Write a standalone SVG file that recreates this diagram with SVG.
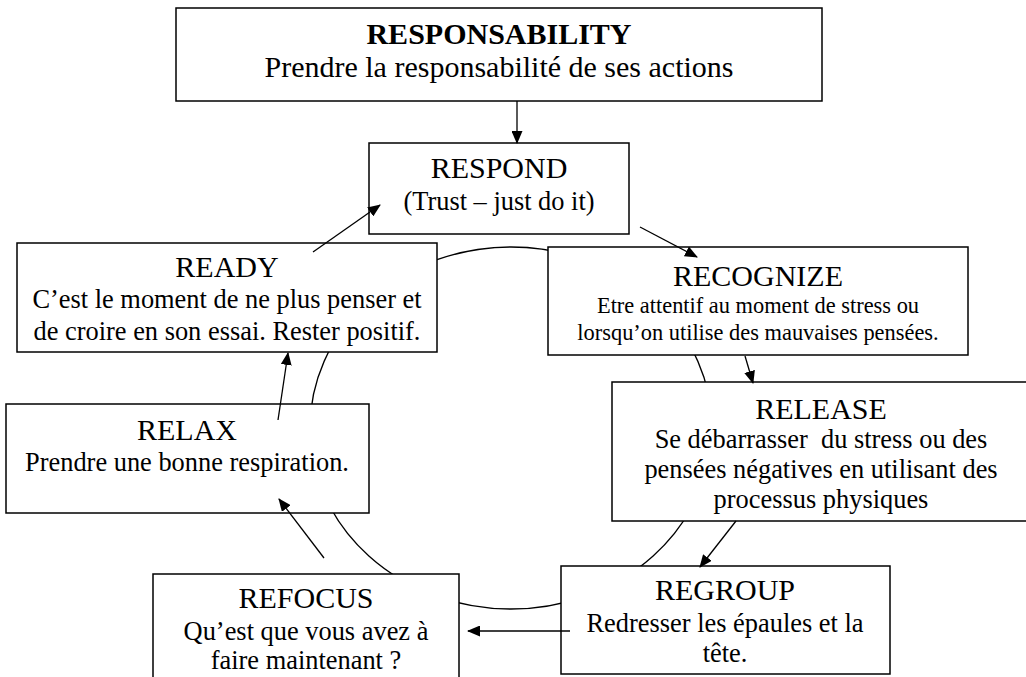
<svg xmlns="http://www.w3.org/2000/svg" width="1026" height="677" viewBox="0 0 1026 677">
<defs>
<style>
.box{fill:#fff;stroke:#000;stroke-width:1.5}
.t{font-family:"Liberation Serif","Times New Roman",serif;font-size:30px;fill:#000;text-anchor:middle}
.b{font-family:"Liberation Serif","Times New Roman",serif;font-size:26.4px;fill:#000;text-anchor:middle}
.s{font-family:"Liberation Serif","Times New Roman",serif;font-size:22.4px;fill:#000;text-anchor:middle}
.c{fill:none;stroke:#000;stroke-width:1.3}
.a{fill:none;stroke:#000;stroke-width:1.3;marker-end:url(#ah)}
</style>
<marker id="ah" markerUnits="userSpaceOnUse" markerWidth="13" markerHeight="11" viewBox="0 0 13 11" refX="12" refY="5.5" orient="auto">
<path d="M0,0 L13,5.5 L0,11 Z" fill="#000"/>
</marker>
</defs>
<rect width="1026" height="677" fill="#fff"/>
<ellipse class="c" cx="511" cy="428" rx="201" ry="181"/>
<g id="responsability">
<rect class="box" x="176" y="8" width="646" height="93"/>
<text class="t" x="499" y="44" font-weight="bold">RESPONSABILITY</text>
<text class="t" x="499" y="77">Prendre la responsabilité de ses actions</text>
</g>
<g id="respond">
<rect class="box" x="369" y="143" width="260" height="91"/>
<text class="t" x="499" y="178">RESPOND</text>
<text class="b" x="499" y="210">(Trust – just do it)</text>
</g>
<g id="ready">
<rect class="box" x="17" y="243" width="420" height="109"/>
<text class="t" x="227" y="277">READY</text>
<text class="b" x="227" y="308">C’est le moment de ne plus penser et</text>
<text class="b" x="227" y="340">de croire en son essai. Rester positif.</text>
</g>
<g id="recognize">
<rect class="box" x="548" y="247" width="420" height="108"/>
<text class="t" x="758" y="286">RECOGNIZE</text>
<text class="s" x="758" y="313">Etre attentif au moment de stress ou</text>
<text class="s" x="758" y="340">lorsqu’on utilise des mauvaises pensées.</text>
</g>
<g id="release">
<rect class="box" x="612" y="382" width="420" height="139"/>
<text class="t" x="821" y="419">RELEASE</text>
<text class="b" x="821" y="448" xml:space="preserve">Se débarrasser  du stress ou des</text>
<text class="b" x="821" y="478">pensées négatives en utilisant des</text>
<text class="b" x="821" y="508">processus physiques</text>
</g>
<g id="relax">
<rect class="box" x="6" y="404" width="363" height="109"/>
<text class="t" x="187" y="440">RELAX</text>
<text class="b" x="187" y="471">Prendre une bonne respiration.</text>
</g>
<g id="regroup">
<rect class="box" x="561" y="566" width="329" height="108"/>
<text class="t" x="725" y="600">REGROUP</text>
<text class="b" x="725" y="632">Redresser les épaules et la</text>
<text class="b" x="725" y="662">tête.</text>
</g>
<g id="refocus">
<rect class="box" x="153" y="574" width="306" height="120"/>
<text class="t" x="306" y="608">REFOCUS</text>
<text class="b" x="306" y="640">Qu’est que vous avez à</text>
<text class="b" x="306" y="669">faire maintenant ?</text>
</g>
<g id="connectors">
<line class="a" x1="517" y1="101" x2="517" y2="143"/>
<line class="a" x1="313" y1="252" x2="380" y2="205"/>
<line class="a" x1="640" y1="227" x2="697" y2="257"/>
<line class="a" x1="745" y1="356" x2="753" y2="383"/>
<line class="a" x1="736" y1="521" x2="700" y2="567"/>
<line class="a" x1="570" y1="631" x2="468" y2="631"/>
<line class="a" x1="324" y1="558" x2="279" y2="499"/>
<line class="a" x1="278" y1="420" x2="288" y2="353"/>
</g>
</svg>
